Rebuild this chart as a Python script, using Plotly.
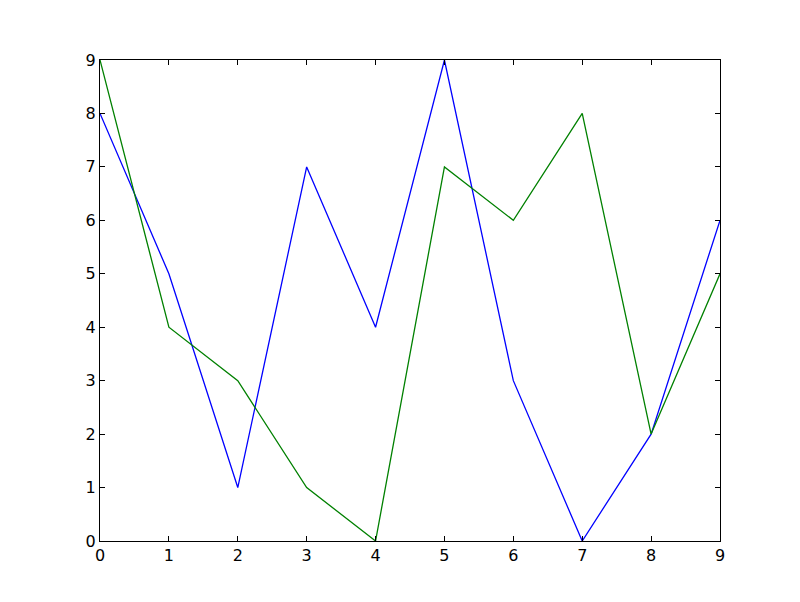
import plotly.graph_objects as go

x_vals = list(range(10))
blue_vals = [8, 5, 1, 7, 4, 9, 3, 0, 2, 6]
green_vals = [9, 4, 3, 1, 0, 7, 6, 8, 2, 5]
tick_vals = list(range(10))

fig = go.Figure()
fig.add_trace(go.Scatter(x=x_vals, y=blue_vals, mode="lines",
                         line=dict(color="#0000ff", width=1.3)))
fig.add_trace(go.Scatter(x=x_vals, y=green_vals, mode="lines",
                         line=dict(color="#008000", width=1.3)))

axis_common = dict(
    tickmode="array", tickvals=tick_vals, ticktext=[str(v) for v in tick_vals],
    range=[0, 9], ticks="inside", ticklen=5, tickwidth=1, tickcolor="black",
    showline=True, linecolor="black", linewidth=1.2, mirror="ticks",
    showgrid=False, zeroline=False,
    tickfont=dict(family="DejaVu Sans", size=16, color="black"),
)

fig.update_layout(
    width=800, height=602,
    margin=dict(l=92, r=88, t=52, b=69),
    paper_bgcolor="white", plot_bgcolor="white",
    showlegend=False,
    xaxis=dict(**axis_common),
    yaxis=dict(**axis_common),
)
fig.write_html("out.html")
